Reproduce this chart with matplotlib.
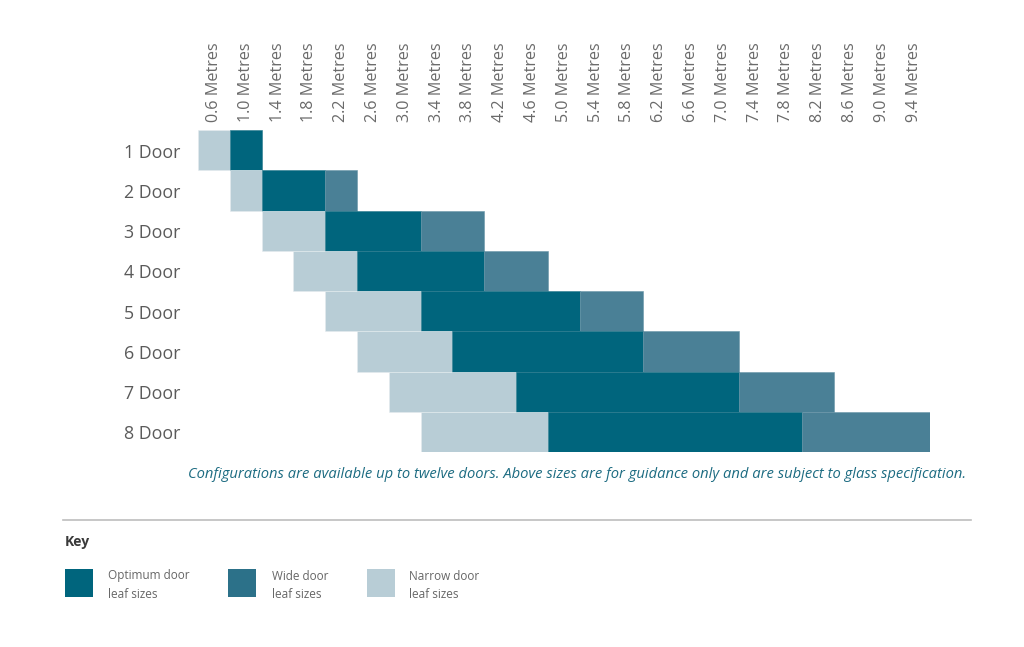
import matplotlib
matplotlib.use("Agg")
import matplotlib.pyplot as plt
from matplotlib.patches import Rectangle
from matplotlib.lines import Line2D
from matplotlib import transforms

plt.rcParams['font.family'] = ['Open Sans', 'DejaVu Sans']

# Column headings (metres)
widths = ["0.6", "1.0", "1.4", "1.8", "2.2", "2.6", "3.0", "3.4", "3.8", "4.2", "4.6", "5.0",
          "5.4", "5.8", "6.2", "6.6", "7.0", "7.4", "7.8", "8.2", "8.6", "9.0", "9.4"]
doors = ["1 Door", "2 Door", "3 Door", "4 Door", "5 Door", "6 Door", "7 Door", "8 Door"]

# First column of each row and the number of columns in each band
start_col = [0, 1, 2, 3, 4, 5, 6, 7]
narrow_cols = [1, 1, 2, 2, 3, 3, 4, 4]
optimum_cols = [1, 2, 3, 4, 5, 6, 7, 8]
wide_cols = [0, 1, 2, 2, 2, 3, 3, 4]

c_opt = "#00657d"
c_wide = "#4a8096"
c_narrow = "#b8cdd6"
c_wide_key = "#2c7189"

W, H = 1024, 647
fig = plt.figure(figsize=(W / 100, H / 100), dpi=100)


def fx(px):
    return px / W


def fy(py):
    return 1 - py / H


ax = fig.add_axes([fx(198), fy(452), fx(929.5) - fx(198), fy(130) - fy(452)])

for i in range(len(doors)):
    left = start_col[i]
    ax.barh(i + 0.5, narrow_cols[i], left=left, height=1, color=c_narrow,
            edgecolor="#e4ecef", linewidth=0.4)
    left += narrow_cols[i]
    ax.barh(i + 0.5, optimum_cols[i], left=left, height=1, color=c_opt,
            edgecolor="#2a7a8e", linewidth=0.4)
    left += optimum_cols[i]
    if wide_cols[i]:
        ax.barh(i + 0.5, wide_cols[i], left=left, height=1, color=c_wide,
                edgecolor="#6a96a8", linewidth=0.4)

ax.set_xlim(0, len(widths))
ax.set_ylim(len(doors), 0)
for s in ax.spines.values():
    s.set_visible(False)

ax.xaxis.tick_top()
ax.set_xticks([k + 0.5 for k in range(len(widths))])
ax.set_xticklabels([w + " Metres" for w in widths], rotation=90, fontsize=11.6,
                   color="#6a6a6a")
ax.tick_params(axis="x", length=0, pad=6)
ax.set_yticks([])

trans = transforms.blended_transform_factory(fig.transFigure, ax.transData)
for i, d in enumerate(doors):
    ax.text(fx(124), i + 0.56, d, transform=trans, ha="left", va="center",
            fontsize=12.8, color="#5a5a5a")

fig.text(fx(966), fy(474),
         "Configurations are available up to twelve doors. Above sizes are for guidance only "
         "and are subject to glass specification.",
         ha="right", va="center", fontsize=10.6, style="italic", color="#1d6c82")

fig.add_artist(Line2D([fx(63), fx(971)], [fy(520), fy(520)], color="#bdbdbd", lw=1.2))
fig.text(fx(65), fy(542), "Key", ha="left", va="center", fontsize=10,
         fontweight="bold", color="#3a3a3a")

key_items = [("Optimum door\nleaf sizes", c_opt, 65, 108),
             ("Wide door\nleaf sizes", c_wide_key, 228, 272),
             ("Narrow door\nleaf sizes", c_narrow, 367, 409)]
for label, col, sx, tx in key_items:
    fig.add_artist(Rectangle((fx(sx), fy(597)), fx(27.5), fy(569) - fy(597),
                             transform=fig.transFigure, facecolor=col, edgecolor="none"))
    fig.text(fx(tx), fy(585), label, ha="left", va="center", fontsize=8.5,
             color="#666666", linespacing=1.5)

fig.savefig("out.png", dpi=100, facecolor="white")
